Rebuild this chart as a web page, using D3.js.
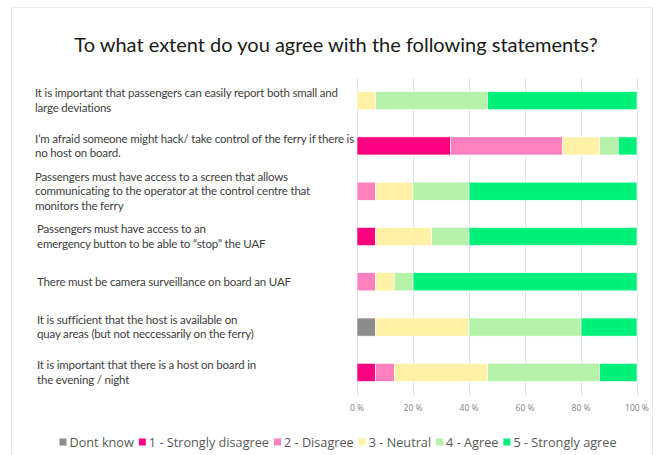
<!DOCTYPE html>
<html>

<head>
  <meta charset="utf8">
  <script src="https://d3js.org/d3.v7.min.js"></script>
  <style>
    body {
      margin: 0;
      background: #fff;
    }

    .grid line {
      stroke: #e3e3e3;
    }

    .tick-label {
      fill: #7f7f7f;
      font-family: 'Open Sans', sans-serif;
      font-size: 8.5px;
    }

    .row-label {
      fill: #404040;
      font-family: Lato, sans-serif;
      font-size: 11.5px;
      letter-spacing: -0.18px;
    }

    .legend text {
      fill: #595959;
      font-family: 'Open Sans', sans-serif;
      font-size: 12.7px;
    }
  </style>
</head>

<body>
  <svg id="chart" width="657" height="455"></svg>

  <script>
    var categories = [
      ['It is important that passengers can easily report both small and', 'large deviations'],
      ['I\u2019m afraid someone might hack/ take control of the ferry if there is', 'no host on board.'],
      ['Passengers must have access to a screen that allows', 'communicating to the operator at the control centre that', 'monitors the ferry'],
      ['Passengers must have access to an', 'emergency button to be able to \u201cstop\u201d the UAF'],
      ['There must be camera surveillance on board an UAF'],
      ['It is sufficient that the host is available on', 'quay areas (but not neccessarily on the ferry)'],
      ['It is important that there is a host on board in', 'the evening / night']
    ];

    var seriesNames = ['Dont know', '1 - Strongly disagree', '2 - Disagree', '3 - Neutral', '4 - Agree', '5 - Strongly agree'];
    var seriesColors = ['#8c8c8c', '#ff007f', '#ff7fbf', '#fff2a6', '#b4f2a8', '#00f07c'];

    // percent of answers per statement
    var dontKnow = [0, 0, 0, 0, 0, 6.67, 0];
    var stronglyDisagree = [0, 33.33, 0, 6.67, 0, 0, 6.67];
    var disagree = [0, 40, 6.67, 0, 6.67, 0, 6.67];
    var neutral = [6.67, 13.33, 13.33, 20, 6.67, 33.33, 33.33];
    var agree = [40, 6.67, 20, 13.33, 6.67, 40, 40];
    var stronglyAgree = [53.33, 6.67, 60, 60, 80, 20, 13.33];

    var tickValues = [0, 20, 40, 60, 80, 100];

    var seriesValues = [dontKnow, stronglyDisagree, disagree, neutral, agree, stronglyAgree];
    var rows = categories.map(function (c, i) {
      var r = { id: i };
      seriesNames.forEach(function (s, j) { r[s] = seriesValues[j][i]; });
      return r;
    });

    var chart = d3.select('#chart');

    // frame
    chart.append('rect')
      .attr('x', 11.5).attr('y', 7.5)
      .attr('width', 641).attr('height', 460)
      .attr('fill', 'none')
      .attr('stroke', '#ebebeb');

    chart.append('text')
      .attr('x', 336)
      .attr('y', 52)
      .attr('text-anchor', 'middle')
      .attr('fill', '#1a1a1a')
      .style('font-family', 'Lato, sans-serif')
      .style('font-size', '20px')
      .text('To what extent do you agree with the following statements?');

    var x = d3.scaleLinear()
      .domain([0, 100])
      .range([357, 637]);

    var y = d3.scaleBand()
      .domain(rows.map(function (d) { return d.id; }))
      .range([78, 395])
      .paddingInner(0.6)
      .paddingOuter(0.3);

    chart.append('g')
      .attr('class', 'grid')
      .selectAll('line')
      .data(tickValues)
      .join('line')
      .attr('x1', function (d) { return x(d) + 0.5; })
      .attr('x2', function (d) { return x(d) + 0.5; })
      .attr('y1', 78)
      .attr('y2', 396);

    chart.append('g')
      .selectAll('text')
      .data(tickValues)
      .join('text')
      .attr('class', 'tick-label')
      .attr('x', function (d) { return x(d); })
      .attr('y', 411)
      .attr('text-anchor', 'middle')
      .text(function (d) { return d + ' %'; });

    var stack = d3.stack().keys(seriesNames);
    var layers = stack(rows);

    chart.append('g')
      .selectAll('g')
      .data(layers)
      .join('g')
      .attr('fill', function (d, i) { return seriesColors[i]; })
      .selectAll('rect')
      .data(function (d) { return d; })
      .join('rect')
      .attr('x', function (d) { return x(d[0]); })
      .attr('width', function (d) { return x(d[1]) - x(d[0]); })
      .attr('y', function (d) { return y(d.data.id); })
      .attr('height', y.bandwidth())
      .attr('stroke', '#fff')
      .attr('stroke-width', 0.6);

    var lineHeight = 14.3;
    chart.append('g')
      .selectAll('text')
      .data(categories)
      .join('text')
      .attr('class', 'row-label')
      .attr('x', function (d, i) { return i < 3 ? 35 : 37; })
      .attr('y', function (d, i) {
        var mid = y(i) + y.bandwidth() / 2;
        return mid - (d.length - 1) * lineHeight / 2 + 4;
      })
      .each(function (d) {
        d3.select(this).selectAll('tspan')
          .data(d)
          .join('tspan')
          .attr('x', d3.select(this).attr('x'))
          .attr('dy', function (t, k) { return k === 0 ? 0 : lineHeight; })
          .text(function (t) { return t; });
      });

    // legend, laid out from measured text widths
    var legend = chart.append('g').attr('class', 'legend');
    var items = legend.selectAll('g')
      .data(seriesNames)
      .join('g');
    items.append('rect')
      .attr('width', 7).attr('height', 7)
      .attr('y', -3.5)
      .attr('fill', function (d, i) { return seriesColors[i]; });
    items.append('text')
      .attr('x', 10)
      .attr('y', 4.5)
      .text(function (d) { return d; });

    var pos = 0;
    var offsets = [];
    items.each(function () {
      offsets.push(pos);
      pos += 10 + this.querySelector('text').getComputedTextLength() + 5;
    });
    var start = 338 - (pos - 5) / 2;
    items.attr('transform', function (d, i) { return 'translate(' + (start + offsets[i]) + ', 442)'; });
  </script>
</body>

</html>
